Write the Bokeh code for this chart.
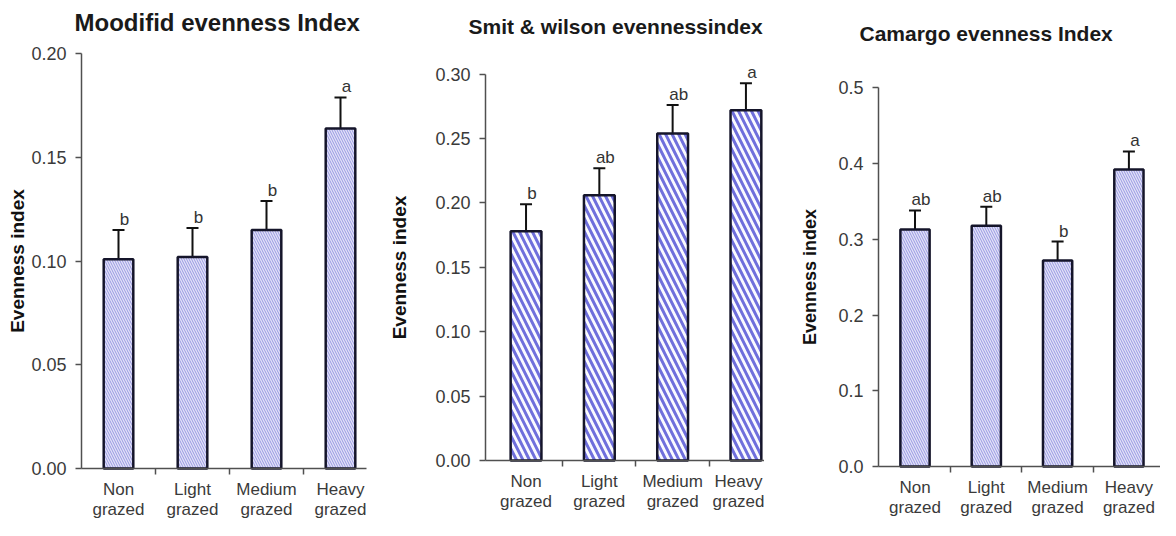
import math
from bokeh.plotting import figure
from bokeh.models import (Range1d, FixedTicker, NumeralTickFormatter, Whisker,
                          TeeHead, Label, ColumnDataSource)
from bokeh.layouts import row
from bokeh.embed import file_html
from bokeh.resources import INLINE
from bokeh.core.properties import value

# ---------------- data ----------------
categories = ["Non\ngrazed", "Light\ngrazed", "Medium\ngrazed", "Heavy\ngrazed"]

mod_mean = [0.101, 0.102, 0.115, 0.164]
mod_upper = [0.115, 0.116, 0.129, 0.179]
mod_letters = ["b", "b", "b", "a"]
mod_ticks = [0.00, 0.05, 0.10, 0.15, 0.20]

smit_mean = [0.178, 0.206, 0.254, 0.272]
smit_upper = [0.199, 0.227, 0.276, 0.293]
smit_letters = ["b", "ab", "ab", "a"]
smit_ticks = [0.00, 0.05, 0.10, 0.15, 0.20, 0.25, 0.30]

cam_mean = [0.313, 0.318, 0.272, 0.392]
cam_upper = [0.338, 0.343, 0.297, 0.416]
cam_letters = ["ab", "ab", "b", "a"]
cam_ticks = [0.0, 0.1, 0.2, 0.3, 0.4, 0.5]

titles = ["Moodifid evenness Index", "Smit & wilson  evennessindex", "Camargo evenness Index"]
ylabel = "Evenness index"

FONT = "Liberation Sans"
H = 520


def panel(title, mean, upper, letters, ticks, fmt, fig_w, axis_px, right_px,
          y_top, y_zero, px_cat, x_axis, bar_w, fill, hatch_color, hatch_w,
          hatch_scale, title_size, title_dx, title_cy, ylab_standoff, ylab_size,
          xlab_size):
    ymax = ticks[-1]
    k = (y_zero - y_top) / ymax           # px per data unit
    y_start = -(H - y_zero) / k
    y_end = ymax + y_top / k
    x_start = x_axis - axis_px / px_cat
    x_end = x_axis + (fig_w - axis_px) / px_cat
    x_line_end = x_axis + (fig_w - axis_px - right_px) / px_cat
    p = figure(width=fig_w, height=H, output_backend="svg", toolbar_location=None,
               x_range=Range1d(x_start, x_end), y_range=Range1d(y_start, y_end),
               min_border_left=0, min_border_right=0,
               min_border_top=0, min_border_bottom=0)
    p.outline_line_color = None
    p.xgrid.visible = False
    p.ygrid.visible = False
    p.background_fill_color = "white"
    p.border_fill_color = "white"

    xs = list(range(len(categories)))
    src = ColumnDataSource(dict(x=xs, mean=mean, upper=upper, letters=letters))

    p.vbar(x="x", top="mean", bottom=0, width=bar_w, source=src, fill_color=fill,
           line_color="#15152a", line_width=2.5, hatch_pattern="\\",
           hatch_color=hatch_color, hatch_weight=hatch_w, hatch_scale=hatch_scale)
    w = Whisker(base="x", lower="mean", upper="upper", source=src,
                dimension="height", line_color="#111111", line_width=2,
                upper_head=TeeHead(size=12, line_width=2, line_color="#111111"),
                lower_head=None)
    p.add_layout(w)
    p.text(x="x", y="upper", text="letters", source=src, text_align="center",
           text_baseline="bottom", x_offset=6, y_offset=-1,
           text_font=value(FONT), text_font_size="17px", text_color="#333333")

    # x axis (sits at y = 0)
    xa = p.xaxis[0]
    xa.fixed_location = 0
    xa.bounds = (x_axis, x_line_end)
    xa.ticker = FixedTicker(ticks=xs, minor_ticks=[i + 0.5 for i in xs[:-1]])
    xa.major_label_overrides = {i: c for i, c in enumerate(categories)}
    xa.major_tick_out = 0
    xa.major_tick_in = 0
    xa.minor_tick_out = 6
    xa.minor_tick_in = 0
    xa.minor_tick_line_color = "#505050"
    xa.minor_tick_line_width = 1.5
    xa.axis_line_color = "#505050"
    xa.axis_line_width = 1.5
    xa.major_label_text_font = FONT
    xa.major_label_text_font_size = xlab_size
    xa.major_label_text_color = "#3a3a3a"
    xa.major_label_standoff = 5
    xa.major_label_text_line_height = 1.1

    # y axis (sits at the left edge of the first category)
    ya = p.yaxis[0]
    ya.fixed_location = x_axis
    ya.bounds = (0, ymax)
    ya.ticker = FixedTicker(ticks=ticks)
    ya.minor_tick_line_color = None
    ya.formatter = NumeralTickFormatter(format=fmt)
    ya.major_tick_out = 6
    ya.major_tick_in = 0
    ya.major_tick_line_color = "#505050"
    ya.major_tick_line_width = 1.5
    ya.axis_line_color = "#505050"
    ya.axis_line_width = 1.5
    ya.major_label_text_font = FONT
    ya.major_label_text_font_size = "18px"
    ya.major_label_text_color = "#3a3a3a"
    ya.major_label_standoff = 9
    ya.axis_label = ylabel
    ya.axis_label_text_font = FONT
    ya.axis_label_text_font_style = "bold"
    ya.axis_label_text_font_size = ylab_size
    ya.axis_label_text_color = "#111111"
    ya.axis_label_standoff = ylab_standoff

    p.add_layout(Label(x=x_axis, y=ymax + (y_top - title_cy) / k, x_offset=title_dx,
                       text=title, text_font=FONT, text_font_style="bold",
                       text_font_size=title_size, text_color="#1a1a1a",
                       text_align="left", text_baseline="middle"))
    return p


p1 = panel(titles[0], mod_mean, mod_upper, mod_letters, mod_ticks, "0.00",
           380, 81, 14, 53.4, 468, 74.0, -0.5, 0.4, "#e2e2f7", "#9898e2", 1, 5,
           "24px", -7, 22.3, 0, "19px", "17px")
p2 = panel(titles[1], smit_mean, smit_upper, smit_letters, smit_ticks, "0.00",
           384, 105, 0, 73.7, 460, 73.3, -0.553, 0.42, "#fafaff", "#6f6fdc", 3, 13,
           "21px", -17, 26.2, 22, "19px", "17px")
p3 = panel(titles[2], cam_mean, cam_upper, cam_letters, cam_ticks, "0.0",
           396, 114, 0, 87.3, 466, 71.3, -0.512, 0.41, "#e2e2f7", "#9898e2", 1, 5,
           "21px", -19, 32.5, 15, "18px", "17px")

layout = row(p1, p2, p3)
open("out.html", "w").write(file_html(layout, INLINE))
